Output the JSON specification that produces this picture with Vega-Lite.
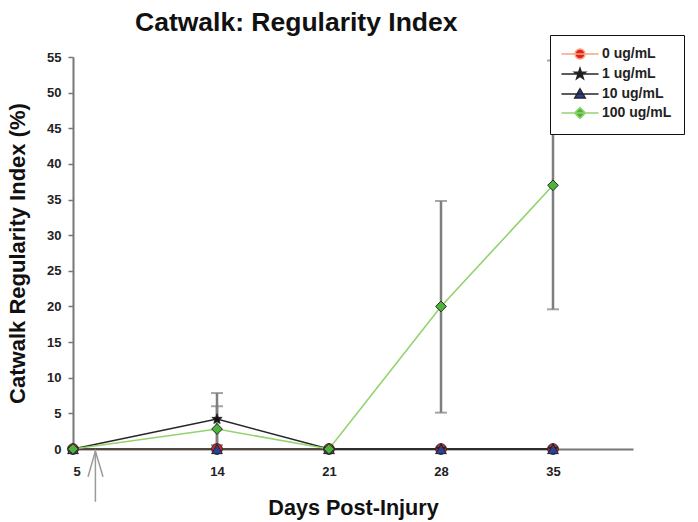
{
  "$schema": "https://vega.github.io/schema/vega-lite/v6.json",
  "width": 560,
  "height": 392,
  "autosize": {"type": "none"},
  "padding": {"left": 73, "top": 57, "right": 65, "bottom": 73},
  "background": "white",
  "config": {
    "font": "Liberation Sans",
    "view": {"stroke": null},
    "axis": {
      "grid": false,
      "domainColor": "#777777",
      "domainWidth": 2,
      "tickColor": "#777777",
      "tickWidth": 1.5,
      "labelFont": "Liberation Sans",
      "labelFontWeight": "bold",
      "labelFontSize": 13,
      "labelColor": "#222222",
      "titleFont": "Liberation Sans",
      "titleFontWeight": "bold",
      "titleColor": "#111111"
    },
    "legend": {
      "padding": 12,
      "strokeColor": "#111111",
      "fillColor": "white",
      "symbolSize": 100,
      "symbolOffset": 11,
      "symbolStrokeWidth": 1.5,
      "labelFont": "Liberation Sans",
      "labelFontWeight": "bold",
      "labelFontSize": 14,
      "labelColor": "#222222",
      "labelOffset": 15,
      "rowPadding": 3
    }
  },
  "title": {
    "text": "Catwalk: Regularity Index",
    "font": "Liberation Sans",
    "fontSize": 26.5,
    "fontWeight": "bold",
    "color": "#111111",
    "anchor": "start",
    "frame": "group",
    "dx": 62,
    "offset": -2
  },
  "datasets": {
    "series": [
      {"series": "0 ug/mL", "day": 5, "value": 0},
      {"series": "0 ug/mL", "day": 14, "value": 0},
      {"series": "0 ug/mL", "day": 21, "value": 0},
      {"series": "0 ug/mL", "day": 28, "value": 0},
      {"series": "0 ug/mL", "day": 35, "value": 0},
      {"series": "1 ug/mL", "day": 5, "value": 0},
      {"series": "1 ug/mL", "day": 14, "value": 4.2},
      {"series": "1 ug/mL", "day": 21, "value": 0},
      {"series": "1 ug/mL", "day": 28, "value": 0},
      {"series": "1 ug/mL", "day": 35, "value": 0},
      {"series": "10 ug/mL", "day": 5, "value": 0},
      {"series": "10 ug/mL", "day": 14, "value": 0},
      {"series": "10 ug/mL", "day": 21, "value": 0},
      {"series": "10 ug/mL", "day": 28, "value": 0},
      {"series": "10 ug/mL", "day": 35, "value": 0},
      {"series": "100 ug/mL", "day": 5, "value": 0},
      {"series": "100 ug/mL", "day": 14, "value": 2.8},
      {"series": "100 ug/mL", "day": 21, "value": 0},
      {"series": "100 ug/mL", "day": 28, "value": 20},
      {"series": "100 ug/mL", "day": 35, "value": 37}
    ],
    "errors": [
      {"series": "1 ug/mL", "day": 14, "value": 0.55, "hi": 7.85},
      {"series": "100 ug/mL", "day": 14, "value": 0, "hi": 6},
      {"series": "100 ug/mL", "day": 28, "value": 5.1, "hi": 34.8},
      {"series": "100 ug/mL", "day": 35, "value": 19.6, "hi": 54.5}
    ],
    "arrowShaft": [{"day": 6.4, "value": -0.3, "value2": -7.4}],
    "arrowHead": [
      {"day": 5.94, "value": -3.9, "o": 1},
      {"day": 6.4, "value": -0.3, "o": 2},
      {"day": 6.875, "value": -3.9, "o": 3}
    ]
  },
  "encoding": {
    "x": {
      "field": "day", "type": "quantitative",
      "scale": {"domain": [5, 40], "nice": false, "zero": false},
      "axis": {"values": [5, 14, 21, 28, 35], "ticks": false, "tickSize": 0, "labelPadding": 16, "title": "Days Post-Injury", "titleFontSize": 21.6, "titlePadding": 19}
    },
    "y": {
      "field": "value", "type": "quantitative",
      "scale": {"domain": [0, 55], "nice": false},
      "axis": {"values": [0, 5, 10, 15, 20, 25, 30, 35, 40, 45, 50, 55], "tickSize": 5, "labelPadding": 7, "labelOverlap": false, "title": "Catwalk Regularity Index (%)", "titleFontSize": 22, "titlePadding": 17}
    }
  },
  "layer": [
    {
      "data": {"name": "series"},
      "mark": {"type": "line", "strokeWidth": 1.6},
      "encoding": {
        "stroke": {
          "field": "series", "type": "nominal",
          "scale": {"domain": ["100 ug/mL", "10 ug/mL", "1 ug/mL", "0 ug/mL"], "range": ["#92d36e", "#262626", "#262626", "#f4a582"]},
          "legend": null
        },
        "detail": {"field": "series"}
      }
    },
    {
      "data": {"name": "errors"},
      "mark": {"type": "rule", "color": "#7f7f7f", "strokeWidth": 2.5},
      "encoding": {
        "y2": {"field": "hi"}
      }
    },
    {
      "data": {"name": "errors"},
      "mark": {"type": "tick", "orient": "horizontal", "color": "#7f7f7f", "size": 12, "thickness": 2}
    },
    {
      "data": {"name": "errors"},
      "mark": {"type": "tick", "orient": "horizontal", "color": "#7f7f7f", "size": 12, "thickness": 2},
      "encoding": {
        "y": {
          "field": "hi", "type": "quantitative",
          "scale": {"domain": [0, 55], "nice": false},
          "axis": {"values": [0, 5, 10, 15, 20, 25, 30, 35, 40, 45, 50, 55], "tickSize": 5, "labelPadding": 7, "labelOverlap": false, "title": "Catwalk Regularity Index (%)", "titleFontSize": 22, "titlePadding": 17}
        }
      }
    },
    {
      "data": {"name": "series"},
      "mark": {"type": "point", "filled": true, "size": 115, "stroke": "#262626", "strokeWidth": 1, "opacity": 1},
      "encoding": {
        "fill": {
          "field": "series", "type": "nominal",
          "scale": {"domain": ["0 ug/mL", "1 ug/mL", "10 ug/mL", "100 ug/mL"], "range": ["#e3211c", "#111111", "#2b3f9e", "#4db43a"]},
          "legend": {
            "title": null,
            "orient": "none",
            "legendX": 477,
            "legendY": -22,
            "encoding": {
              "symbols": {
                "size": {"value": 100},
                "strokeWidth": {"value": 1.5},
                "opacity": {"value": 1},
                "shape": {
                  "condition": [
                    {"test": "datum.value === '0 ug/mL'", "value": "M-3.7,0L3.7,0M1,0A1,1 0 1,1 -1,0A1,1 0 1,1 1,0Z"},
                    {"test": "datum.value === '1 ug/mL'", "value": "M-3.7,0L3.7,0M0,-1.15L0.27,-0.372L1.094,-0.355L0.437,0.142L0.676,0.93L0,0.46L-0.676,0.93L-0.437,0.142L-1.094,-0.355L-0.27,-0.372Z"},
                    {"test": "datum.value === '10 ug/mL'", "value": "M-3.7,0L3.7,0M0,-1.05L1.05,0.8L-1.05,0.8Z"}
                  ],
                  "value": "M-3.7,0L3.7,0M0,-1.1L1.1,0L0,1.1L-1.1,0Z"
                },
                "stroke": {
                  "condition": [
                    {"test": "datum.value === '0 ug/mL'", "value": "#f4a582"},
                    {"test": "datum.value === '100 ug/mL'", "value": "#92d36e"}
                  ],
                  "value": "#262626"
                }
              }
            }
          }
        },
        "shape": {
          "field": "series", "type": "nominal",
          "scale": {"domain": ["100 ug/mL", "10 ug/mL", "1 ug/mL", "0 ug/mL"], "range": ["diamond", "triangle-up", "M0,-1L0.235,-0.324L0.951,-0.309L0.38,0.124L0.588,0.809L0,0.4L-0.588,0.809L-0.38,0.124L-0.951,-0.309L-0.235,-0.324Z", "circle"]},
          "legend": null
        }
      }
    },
    {
      "data": {"name": "arrowShaft"},
      "mark": {"type": "rule", "color": "#9a9a9a", "strokeWidth": 1.5},
      "encoding": {
        "y2": {"field": "value2"}
      }
    },
    {
      "data": {"name": "arrowHead"},
      "mark": {"type": "line", "color": "#9a9a9a", "strokeWidth": 1.5},
      "encoding": {
        "order": {"field": "o"}
      }
    }
  ]
}
